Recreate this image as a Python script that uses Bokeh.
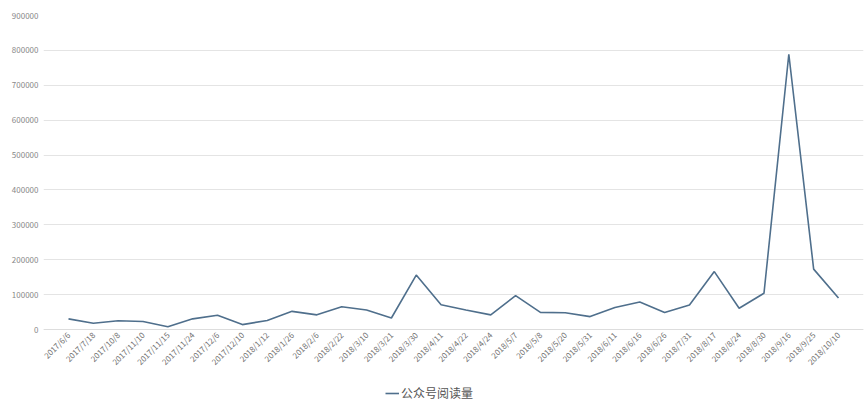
from bokeh.plotting import figure
from bokeh.models import (ColumnDataSource, FactorRange, Range1d, FixedTicker,
                          NumeralTickFormatter, Legend, LegendItem)
from bokeh.embed import file_html
from bokeh.resources import INLINE
import math

dates = ["2017/6/6", "2017/7/18", "2017/10/8", "2017/11/10", "2017/11/15",
         "2017/11/24", "2017/12/6", "2017/12/10", "2018/1/12", "2018/1/26",
         "2018/2/6", "2018/2/22", "2018/3/10", "2018/3/21", "2018/3/30",
         "2018/4/11", "2018/4/22", "2018/4/24", "2018/5/7", "2018/5/8",
         "2018/5/20", "2018/5/31", "2018/6/11", "2018/6/16", "2018/6/26",
         "2018/7/31", "2018/8/17", "2018/8/24", "2018/8/30", "2018/9/16",
         "2018/9/25", "2018/10/10"]
reads = [30500, 18000, 25000, 23000, 8000,
         30500, 41000, 14000, 26000, 52000,
         42000, 65000, 56000, 33000, 156000,
         71000, 56000, 42000, 97000, 49000,
         48000, 37000, 63000, 79000, 49000,
         70000, 166000, 61000, 104000, 789000,
         173000, 90000]
series_name = "公众号阅读量"
y_ticks = [0, 100000, 200000, 300000, 400000, 500000, 600000, 700000, 800000, 900000]

FONT = "Noto Sans CJK SC"

# layout: value area 314px tall, plus 76px below zero for axis labels and legend
Y_MAX = 900000
PLOT_H = 314
EXTRA_H = 76
y_min = -Y_MAX * EXTRA_H / PLOT_H

src = ColumnDataSource(dict(x=dates, y=reads))

p = figure(frame_width=820, frame_height=PLOT_H + EXTRA_H,
           x_range=FactorRange(*dates, range_padding=0.5065,
                               range_padding_units="absolute"),
           y_range=Range1d(y_min, Y_MAX),
           output_backend="svg", toolbar_location=None,
           min_border_left=43, min_border_right=2,
           min_border_top=15, min_border_bottom=0)
p.outline_line_color = None
p.background_fill_color = "white"
p.border_fill_color = "white"

r = p.line("x", "y", source=src, line_color="#4f6f8c", line_width=1.6)

p.yaxis.ticker = FixedTicker(ticks=y_ticks)
p.yaxis.formatter = NumeralTickFormatter(format="0")
p.yaxis.axis_line_color = None
p.yaxis.major_tick_line_color = None
p.yaxis.minor_tick_line_color = None
p.yaxis.major_tick_out = 0
p.yaxis.major_label_text_font_size = "8px"
p.yaxis.major_label_text_color = "#888888"
p.yaxis.major_label_text_font = FONT
p.yaxis.major_label_standoff = 5

p.xaxis.fixed_location = 0
p.xaxis.axis_line_color = "#dddddd"
p.xaxis.major_tick_line_color = None
p.xaxis.minor_tick_line_color = None
p.xaxis.major_tick_out = 0
p.xaxis.major_label_orientation = math.pi / 4
p.xaxis.major_label_text_font_size = "8px"
p.xaxis.major_label_text_color = "#6f6f6f"
p.xaxis.major_label_text_font = FONT
p.xaxis.major_label_standoff = 4

p.xgrid.grid_line_color = None
p.ygrid.grid_line_color = "#e4e4e4"
p.ygrid.grid_line_width = 1

legend = Legend(items=[LegendItem(label=series_name, renderers=[r])],
                orientation="horizontal", location=(342, 4),
                label_text_font=FONT, label_text_font_size="12px",
                label_text_color="#555555", border_line_color=None,
                background_fill_alpha=0, glyph_width=14, glyph_height=14,
                label_standoff=2, padding=0, margin=0)
p.add_layout(legend)

open("out.html", "w").write(file_html(p, INLINE))
